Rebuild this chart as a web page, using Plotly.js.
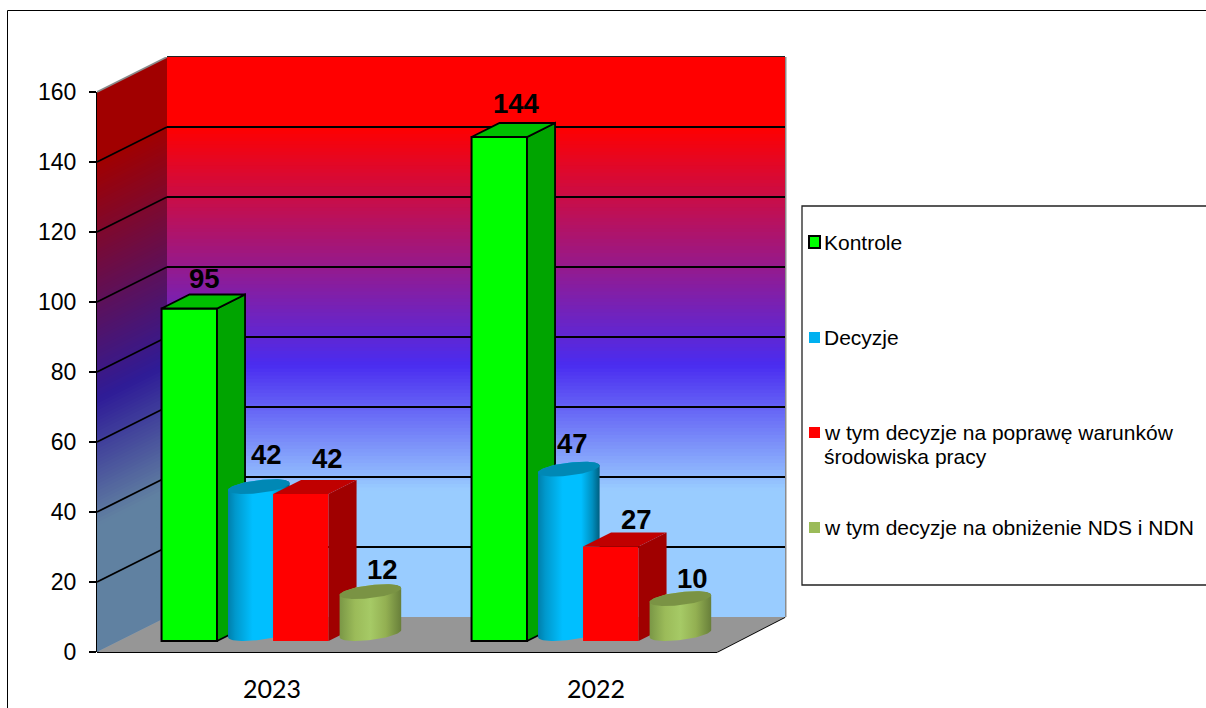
<!DOCTYPE html>
<html>
<head>
<meta charset="utf-8">
<script src="https://cdn.plot.ly/plotly-3.0.1.min.js"></script>
<style>html,body{margin:0;padding:0;background:#fff;overflow:hidden}#chart{width:1206px;height:708px}</style>
</head>
<body>
<div id="chart"></div>
<script>
// ---------- data ----------
const categories = ['2023', '2022'];
const kontrole = [95, 144];
const decyzje = [42, 47];
const poprawa = [42, 27];
const obnizenie = [12, 10];
const legendLabels = ['Kontrole', 'Decyzje', 'w tym decyzje na poprawę warunków<br>środowiska pracy', 'w tym decyzje na obniżenie NDS i NDN'];
const yTicks = [0, 20, 40, 60, 80, 100, 120, 140, 160];

// ---------- frame geometry (pixels) ----------
const W = 1206, H = 708, L = 97, R = 785, T = 57, B = 652;
const PX_PER_CAT = 310, PX_PER_UNIT = 3.5;
const xLeft = -0.5, xRightEdge = xLeft + (R - L) / PX_PER_CAT, yTopEdge = (B - T) / PX_PER_UNIT;
const dx = 70 / PX_PER_CAT, dy = 35 / PX_PER_UNIT;         // wall depth
const bdx = 28 / PX_PER_CAT, bdy = 14 / PX_PER_UNIT;       // bar depth
const lift = 11 / PX_PER_UNIT;                              // bars stand on the floor, above the front edge
const offGreen = -62.7 / PX_PER_CAT, offBlue = 6.8 / PX_PER_CAT, offRed = 48.8 / PX_PER_CAT, offOlive = 118.4 / PX_PER_CAT;
const barW = 55.5 / PX_PER_CAT, cylR = 30.8 / PX_PER_CAT;
const skew = 3.5 / PX_PER_UNIT, ellB = 6.5 / PX_PER_UNIT, ellLow = Math.hypot(skew, ellB);
const groupX = categories.map((c, i) => i);
const px = x => (x - L) / (R - L), py = y => (B - y) / (B - T);

// ---------- helpers ----------
const poly = (xs, ys, color, yaxis, lineW, extra) => Object.assign({
  type: 'scatter', mode: 'lines', x: xs, y: ys, fill: 'toself', fillcolor: color,
  line: { color: '#000', width: lineW || 0 }, xaxis: yaxis === 2 ? 'x2' : 'x', yaxis: yaxis === 2 ? 'y2' : 'y',
  hoverinfo: 'skip', showlegend: false
}, extra || {});

function boxFaces(vals, off, side, top, layer, lineW) {
  const out = [];
  vals.forEach((v, i) => {
    const x1 = groupX[i] + off - barW / 2, x2 = x1 + barW, y2 = lift + v;
    out.push(poly([x2, x2 + bdx, x2 + bdx, x2, x2], [lift, lift + bdy, y2 + bdy, y2, lift], side, layer, lineW));
    out.push(poly([x1, x1 + bdx, x2 + bdx, x2, x1], [y2, y2 + bdy, y2 + bdy, y2, y2], top, layer, lineW));
  });
  return out;
}
function cylFaces(vals, off, stops, top, layer) {
  const out = [], N = 48;
  vals.forEach((v, i) => {
    const cx = groupX[i] + off, c0 = lift + ellLow, c1 = lift + v + ellLow;
    const xs = [], ys = [], tx = [], ty = [];
    for (let k = 0; k <= N; k++) { const t = Math.PI + Math.PI * k / N; xs.push(cx + cylR * Math.cos(t)); ys.push(c0 + skew * Math.cos(t) + ellB * Math.sin(t)); }
    for (let k = 0; k <= N; k++) { const t = Math.PI * k / N; xs.push(cx + cylR * Math.cos(t)); ys.push(c1 + skew * Math.cos(t) + ellB * Math.sin(t)); }
    for (let k = 0; k <= 2 * N; k++) { const t = Math.PI * k / N; tx.push(cx + cylR * Math.cos(t)); ty.push(c1 + skew * Math.cos(t) + ellB * Math.sin(t)); }
    out.push(poly(xs, ys, stops[0][1], layer, 0, { fillgradient: { type: 'horizontal', colorscale: stops } }));
    out.push(poly(tx, ty, top, layer, 0));
  });
  return out;
}
const barTrace = (name, vals, off, color, layer, lineW) => ({
  type: 'bar', name, x: groupX.map(g => g + off), y: vals, base: lift, width: barW,
  marker: { color, line: { color: '#000', width: lineW || 0 } },
  xaxis: layer === 2 ? 'x2' : 'x', yaxis: layer === 2 ? 'y2' : 'y', showlegend: false, hoverinfo: 'y'
});

// ---------- marks ----------
const blueStops = [[0, '#007fab'], [0.12, '#0098cc'], [0.4, '#00bfff'], [0.7, '#00bfff'], [0.88, '#0090c0'], [1, '#005f80']];
const oliveStops = [[0, '#7a9746'], [0.25, '#9bbb59'], [0.5, '#a6ca66'], [0.75, '#93b052'], [1, '#687f3a']];
const traces = [
  barTrace(legendLabels[0], kontrole, offGreen, '#00ff00', 1, 2),
  ...boxFaces(kontrole, offGreen, '#00a400', '#00c000', 1, 1.8),
  ...cylFaces(decyzje, offBlue, blueStops, '#0088b5', 1),
  barTrace(legendLabels[2], poprawa, offRed, '#ff0000', 2, 0),
  ...boxFaces(poprawa, offRed, '#a00000', '#c00000', 2, 0),
  ...cylFaces(obnizenie, offOlive, oliveStops, '#7a9344', 2)
];

// ---------- walls ----------
const wallStops = [[0, [153, 204, 255]], [0.227, [153, 204, 255]], [0.45, [74, 44, 240]], [0.875, [255, 0, 0]], [1, [255, 0, 0]]];
function wallColor(t, k) {
  let i = 0; while (i < wallStops.length - 2 && t > wallStops[i + 1][0]) i++;
  const [a, ca] = wallStops[i], [b, cb] = wallStops[i + 1], f = Math.min(1, (t - a) / (b - a));
  return 'rgb(' + ca.map((c, j) => Math.round((c + (cb[j] - c) * f) * k)).join(',') + ')';
}
const shapes = [];
const yMax = yTicks[yTicks.length - 1];
shapes.push({ type: 'path', layer: 'below', xref: 'x', yref: 'y', line: { width: 0 }, fillcolor: '#969696',
  path: `M${xLeft},0 L1.5,0 L${xRightEdge},${dy} L${xLeft + dx},${dy} Z` });
for (let v = yMax; v > 0; v -= 1) {
  const t = (v - 0.5) / yMax, lo = Math.max(0, v - 1.4);
  shapes.push({ type: 'path', layer: 'below', xref: 'x', yref: 'y', line: { width: 0 }, fillcolor: wallColor(t, 1),
    path: `M${xLeft + dx},${lo + dy} L${xRightEdge},${lo + dy} L${xRightEdge},${v + dy} L${xLeft + dx},${v + dy} Z` });
  shapes.push({ type: 'path', layer: 'below', xref: 'x', yref: 'y', line: { width: 0 }, fillcolor: wallColor(t, 0.63),
    path: `M${xLeft},${lo} L${xLeft + dx},${lo + dy} L${xLeft + dx},${v + dy} L${xLeft},${v} Z` });
}
yTicks.filter(v => v > 0).forEach(v => {
  const top = v === yMax;
  shapes.push({ type: 'path', layer: 'below', xref: 'x', yref: 'y', line: { color: top ? '#8a8a8a' : '#000', width: 1.8 },
    path: `M${xLeft},${v} L${xLeft + dx},${v + dy}` });
  if (!top) shapes.push({ type: 'path', layer: 'below', xref: 'x', yref: 'y', line: { color: '#000', width: 1.8 },
    path: `M${xLeft + dx},${v + dy} L${xRightEdge},${v + dy}` });
});
const pline = (x0, y0, x1, y1, color, w, layer) => ({ type: 'line', layer: layer || 'below', xref: 'paper', yref: 'paper',
  x0: px(x0), y0: py(y0), x1: px(x1), y1: py(y1), line: { color, width: w } });
shapes.push(
  pline(167, 57, R, 57, '#222', 2),
  pline(R + 0.5, 57, R + 0.5, 617, '#8c8c8c', 2),
  pline(167, 57, 167, 617, '#8c8c8c', 2),
  pline(97, 652, 167, 617, '#9a9a9a', 1),
  pline(97, 652, 717, 652, '#000', 2),
  pline(717, 652, 785, 617, '#000', 1.8),
  pline(97, 92, 97, 652, '#000', 2),
  // outer frame
  pline(7.5, 10.5, W, 10.5, '#000', 1),
  pline(7.5, 10.5, 7.5, H, '#000', 1)
);
// legend box
shapes.push({ type: 'rect', layer: 'above', xref: 'paper', yref: 'paper', x0: px(802), x1: px(W + 4), y0: py(585), y1: py(206),
  fillcolor: '#fff', line: { color: '#222', width: 1.3 } });
const swatches = [
  { x0: 809, x1: 820, y0: 236, y1: 248, c: '#00ff00', lw: 2 },
  { x0: 809, x1: 820, y0: 332, y1: 343, c: '#00b0f0', lw: 0 },
  { x0: 809, x1: 820, y0: 427, y1: 438, c: '#ff0000', lw: 0 },
  { x0: 809, x1: 820, y0: 522, y1: 533, c: '#9bbb59', lw: 0 }
];
swatches.forEach(s => shapes.push({ type: 'rect', layer: 'above', xref: 'paper', yref: 'paper',
  x0: px(s.x0), x1: px(s.x1), y0: py(s.y1), y1: py(s.y0), fillcolor: s.c, line: { color: '#000', width: s.lw } }));

// ---------- text ----------
const annotations = [];
const sans = '"Liberation Sans", Arial, sans-serif';
const legendY = [242, 337, 432, 527];
legendLabels.forEach((label, i) => label.split('<br>').forEach((line, j) => annotations.push({
  xref: 'paper', yref: 'paper', x: px(822), y: py(legendY[i] + j * 24), xanchor: 'left', yanchor: 'middle', showarrow: false,
  text: line, font: { family: sans, size: 21, color: '#000' }
})));
const labelSets = [
  [kontrole, offGreen, [15.5, 17.5], [30, 34]],
  [decyzje, offBlue, [7.7, 3.5], [40, 33]],
  [poprawa, offRed, [26.7, 25.5], [36, 27.5]],
  [obnizenie, offOlive, [12, 12], [30, 28]]
];
labelSets.forEach(([vals, off, sx, sy]) => vals.forEach((v, i) => annotations.push({
  xref: 'x', yref: 'y', x: groupX[i] + off, y: lift + v, xshift: sx[i], yshift: sy[i], xanchor: 'center', yanchor: 'middle',
  showarrow: false, text: '<b>' + v + '</b>', font: { family: sans, size: 27.5, color: '#000' }
})));

const layout = {
  width: W, height: H, paper_bgcolor: '#fff', plot_bgcolor: 'rgba(0,0,0,0)', showlegend: false, barmode: 'overlay',
  margin: { l: L, r: W - R, t: T, b: H - B, pad: 0 },
  xaxis: { range: [xLeft, xRightEdge], tickmode: 'array', tickvals: [20 / PX_PER_CAT, 1 + 34 / PX_PER_CAT], ticktext: categories,
    ticks: '', ticklabelstandoff: 20, showgrid: false, zeroline: false, showline: false,
    tickfont: { family: 'Lato, sans-serif', size: 25, color: '#000' } },
  yaxis: { range: [0, yTopEdge], tickmode: 'array', tickvals: yTicks, ticks: 'outside', ticklen: 7, tickwidth: 1.5, tickcolor: '#000',
    ticklabelstandoff: 8, showgrid: false, zeroline: false, showline: false,
    tickfont: { family: sans, size: 23, color: '#000' } },
  xaxis2: { range: [xLeft, xRightEdge], overlaying: 'x', visible: false },
  yaxis2: { range: [0, yTopEdge], overlaying: 'y', visible: false },
  shapes, annotations
};
Plotly.newPlot('chart', traces, layout, { displayModeBar: false });
</script>
</body>
</html>
